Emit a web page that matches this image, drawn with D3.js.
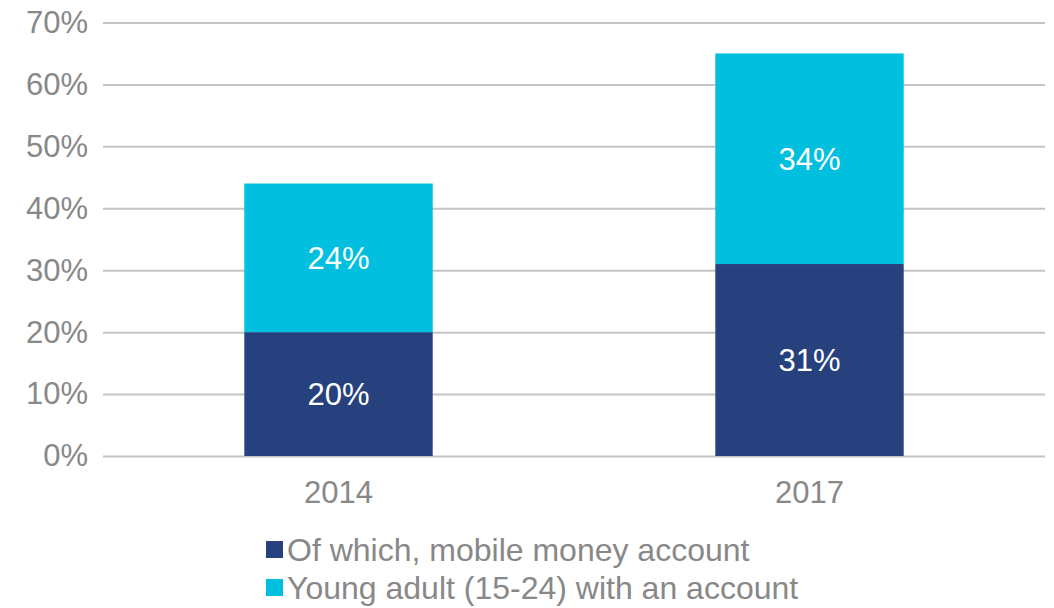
<!DOCTYPE html>
<html>
<head>
<meta charset="utf-8">
<script src="https://cdn.jsdelivr.net/npm/d3@7"></script>
<style>
  body { margin: 0; background: #fff; }
  svg { display: block; font-family: "Liberation Sans", Arial, sans-serif; }
  .grid line { stroke: #c4c4c4; stroke-width: 2; }
  .grid text { fill: #888; font-size: 31px; }
  .xlab { fill: #888; font-size: 31px; }
  .val { fill: #fff; font-size: 31px; }
  .legend text { fill: #888; font-size: 32px; }
</style>
</head>
<body>
<svg id="chart" width="1054" height="608"></svg>
<script>
// chart data
var years = ["2014", "2017"];
var seriesNames = ["Of which, mobile money account", "Young adult (15-24) with an account"];
var mobileMoney = [0.20, 0.31];
var youngAdultRest = [0.24, 0.34];
var yTicks = [0, 0.1, 0.2, 0.3, 0.4, 0.5, 0.6, 0.7];
var colors = ["#27417e", "#00bfdf"];

var svg = d3.select("#chart");

var x = d3.scaleBand()
  .domain(years)
  .range([103, 1045])
  .paddingInner(0.6)
  .paddingOuter(0.3);

var y = d3.scaleLinear()
  .domain([0, 0.7])
  .range([456, 22.5]);

// gridlines + y labels
var yAxis = svg.append("g")
  .attr("class", "grid")
  .attr("transform", "translate(103,0)")
  .call(d3.axisLeft(y)
    .tickValues(yTicks)
    .tickFormat(d3.format(".0%"))
    .tickSize(-(1045 - 103))
    .tickPadding(15));
yAxis.select(".domain").remove();

// stacked segments
var rows = years.map(function(yr, i) {
  return { year: yr, s0: mobileMoney[i], s1: youngAdultRest[i] };
});
var stacked = d3.stack().keys(["s0", "s1"])(rows);

var layers = svg.selectAll(".layer")
  .data(stacked)
  .enter().append("g")
  .attr("class", "layer")
  .attr("fill", function(d, i) { return colors[i]; });

layers.selectAll("rect")
  .data(function(d) { return d; })
  .enter().append("rect")
  .attr("x", function(d) { return x(d.data.year); })
  .attr("width", x.bandwidth())
  .attr("y", function(d) { return y(d[1]); })
  .attr("height", function(d) { return y(d[0]) - y(d[1]); });

layers.selectAll("text")
  .data(function(d) { return d; })
  .enter().append("text")
  .attr("class", "val")
  .attr("text-anchor", "middle")
  .attr("dy", "0.35em")
  .attr("x", function(d) { return x(d.data.year) + x.bandwidth() / 2; })
  .attr("y", function(d) { return (y(d[0]) + y(d[1])) / 2; })
  .text(function(d) { return d3.format(".0%")(d[1] - d[0]); });

// x labels
svg.selectAll(".xlab")
  .data(years)
  .enter().append("text")
  .attr("class", "xlab")
  .attr("text-anchor", "middle")
  .attr("x", function(d) { return x(d) + x.bandwidth() / 2; })
  .attr("y", 492)
  .attr("dy", "0.35em")
  .text(function(d) { return d; });

// legend
var legend = svg.append("g")
  .attr("class", "legend")
  .attr("transform", "translate(266,550)");

var item = legend.selectAll("g")
  .data(seriesNames)
  .enter().append("g")
  .attr("transform", function(d, i) { return "translate(0," + (i * 38) + ")"; });

item.append("rect")
  .attr("y", -9)
  .attr("width", 17)
  .attr("height", 17)
  .attr("fill", function(d, i) { return colors[i]; });

item.append("text")
  .attr("x", 21)
  .attr("dy", "0.35em")
  .text(function(d) { return d; });
</script>
</body>
</html>
